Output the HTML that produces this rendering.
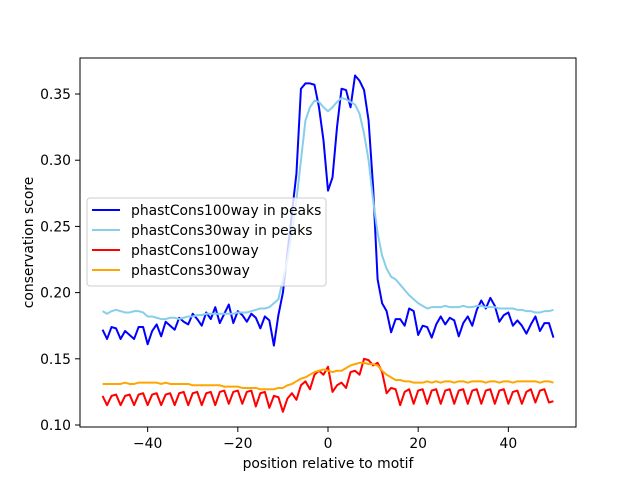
<!DOCTYPE html>
<html><head><meta charset="utf-8"><style>
body{margin:0;background:#fff;}
svg{display:block;font-family:"DejaVu Sans","Liberation Sans",sans-serif;}
</style></head><body>
<svg id="chart" width="640" height="480" xmlns="http://www.w3.org/2000/svg">
<rect width="640" height="480" fill="#fff"/>
<g id="plot"></g>
</svg>
<script>
const peaks100 = [0.172,0.165,0.174,0.173,0.165,0.171,0.168,0.165,0.174,0.174,0.161,0.171,0.176,0.167,0.178,0.175,0.172,0.181,0.178,0.176,0.184,0.180,0.175,0.185,0.180,0.189,0.177,0.184,0.191,0.177,0.186,0.183,0.178,0.184,0.181,0.173,0.182,0.179,0.160,0.183,0.200,0.230,0.260,0.290,0.354,0.358,0.358,0.357,0.340,0.315,0.277,0.287,0.325,0.354,0.353,0.340,0.364,0.360,0.353,0.330,0.280,0.210,0.192,0.186,0.170,0.180,0.180,0.175,0.188,0.186,0.168,0.175,0.174,0.166,0.176,0.182,0.176,0.181,0.179,0.167,0.177,0.182,0.175,0.187,0.194,0.188,0.196,0.190,0.178,0.183,0.185,0.175,0.179,0.175,0.169,0.176,0.182,0.171,0.177,0.177,0.166];
const peaks30 = [0.186,0.184,0.186,0.187,0.186,0.185,0.185,0.186,0.186,0.185,0.182,0.182,0.181,0.180,0.180,0.181,0.181,0.180,0.181,0.182,0.182,0.183,0.183,0.184,0.184,0.184,0.184,0.184,0.184,0.184,0.185,0.185,0.185,0.186,0.187,0.188,0.188,0.189,0.192,0.195,0.210,0.225,0.245,0.270,0.300,0.330,0.340,0.345,0.344,0.340,0.337,0.340,0.344,0.347,0.346,0.344,0.342,0.335,0.320,0.300,0.270,0.245,0.228,0.218,0.212,0.210,0.206,0.202,0.198,0.195,0.192,0.190,0.188,0.189,0.189,0.189,0.190,0.189,0.189,0.189,0.190,0.189,0.189,0.190,0.190,0.189,0.189,0.189,0.188,0.188,0.188,0.188,0.187,0.187,0.186,0.186,0.185,0.185,0.186,0.186,0.187];
const all100 = [0.122,0.115,0.122,0.123,0.115,0.122,0.123,0.115,0.123,0.124,0.115,0.123,0.124,0.115,0.123,0.124,0.115,0.124,0.125,0.115,0.124,0.125,0.115,0.124,0.125,0.115,0.125,0.126,0.116,0.125,0.126,0.116,0.125,0.126,0.114,0.124,0.125,0.113,0.122,0.121,0.110,0.120,0.124,0.119,0.130,0.133,0.127,0.138,0.141,0.138,0.144,0.125,0.130,0.132,0.128,0.140,0.141,0.138,0.150,0.149,0.145,0.147,0.140,0.124,0.128,0.127,0.115,0.125,0.127,0.116,0.126,0.127,0.116,0.126,0.127,0.116,0.126,0.127,0.116,0.126,0.127,0.116,0.126,0.127,0.116,0.126,0.127,0.116,0.126,0.127,0.116,0.125,0.126,0.116,0.125,0.127,0.117,0.126,0.127,0.117,0.118];
const all30 = [0.131,0.131,0.131,0.131,0.131,0.132,0.131,0.131,0.132,0.132,0.132,0.132,0.132,0.131,0.132,0.131,0.131,0.131,0.131,0.131,0.130,0.130,0.130,0.130,0.130,0.130,0.130,0.129,0.129,0.129,0.129,0.128,0.128,0.128,0.128,0.127,0.127,0.127,0.127,0.128,0.128,0.130,0.131,0.133,0.135,0.136,0.138,0.140,0.141,0.142,0.141,0.140,0.141,0.141,0.143,0.145,0.146,0.147,0.147,0.146,0.146,0.145,0.141,0.138,0.136,0.134,0.134,0.133,0.133,0.132,0.132,0.132,0.133,0.132,0.133,0.132,0.133,0.133,0.132,0.133,0.133,0.132,0.133,0.133,0.133,0.132,0.133,0.133,0.132,0.133,0.133,0.132,0.133,0.133,0.133,0.133,0.133,0.132,0.133,0.133,0.132];
const xTicks = [-40,-20,0,20,40];
const yTicks = [0.10,0.15,0.20,0.25,0.30,0.35];
const seriesNames = ["phastCons100way in peaks","phastCons30way in peaks","phastCons100way","phastCons30way"];

const L=80,R=576,T=58,B=427;
const X0=-55,X1=55,Y0=0.0985,Y1=0.3772;
const FS=13.9;
const sx=v=>L+(v-X0)/(X1-X0)*(R-L);
const sy=v=>B-(v-Y0)/(Y1-Y0)*(B-T);
const NS="http://www.w3.org/2000/svg";
const g=document.getElementById('plot');
function mk(tag,attrs){const e=document.createElementNS(NS,tag);for(const k in attrs)e.setAttribute(k,attrs[k]);g.appendChild(e);return e;}

const series=[[peaks100,"#0000ff"],[peaks30,"#87ceeb"],[all100,"#ff0000"],[all30,"#ffa500"]];
series.forEach((s,i)=>{
  const pts=s[0].map((v,j)=>sx(j-50).toFixed(2)+","+sy(v).toFixed(2)).join(" ");
  const p=mk('polyline',{points:pts,fill:"none",stroke:s[1],"stroke-width":2,"stroke-linejoin":"round"});
  
  
});

const frame=mk('rect',{x:L,y:T,width:R-L,height:B-T,fill:"none",stroke:"#000","stroke-width":1});



xTicks.forEach(t=>{
  const x=sx(t);
  const l=mk('line',{x1:x,x2:x,y1:B,y2:B+5,stroke:"#000","stroke-width":1});
  
  
  const tx=mk('text',{x:x,y:B+21,"text-anchor":"middle","font-size":FS,fill:"#000"});
  tx.textContent=(t<0?"\u2212"+(-t):t);
  
  
});
yTicks.forEach(t=>{
  const y=sy(t);
  const l=mk('line',{x1:L-5,x2:L,y1:y,y2:y,stroke:"#000","stroke-width":1});
  
  
  const tx=mk('text',{x:L-9,y:y+5,"text-anchor":"end","font-size":FS,fill:"#000"});
  tx.textContent=t.toFixed(2);
  
  
});
const xt=mk('text',{x:(L+R)/2,y:468,"text-anchor":"middle","font-size":FS,fill:"#000"});
xt.textContent="position relative to motif";


const yt=mk('text',{x:0,y:0,"text-anchor":"middle","font-size":FS,fill:"#000",transform:"translate(33,"+((T+B)/2)+") rotate(-90)"});
yt.textContent="conservation score";



const lg=mk('rect',{x:87,y:198,width:239,height:88,rx:3,fill:"#fff","fill-opacity":0.8,stroke:"#ccc","stroke-width":1});


seriesNames.forEach((n,i)=>{
  const y=210+i*20;
  const l=mk('line',{x1:92,x2:120,y1:y,y2:y,stroke:series[i][1],"stroke-width":2});
  
  
  const tx=mk('text',{x:131,y:y+5,"font-size":FS,fill:"#000"});
  tx.textContent=n;
  
  
});
</script>
</body></html>
